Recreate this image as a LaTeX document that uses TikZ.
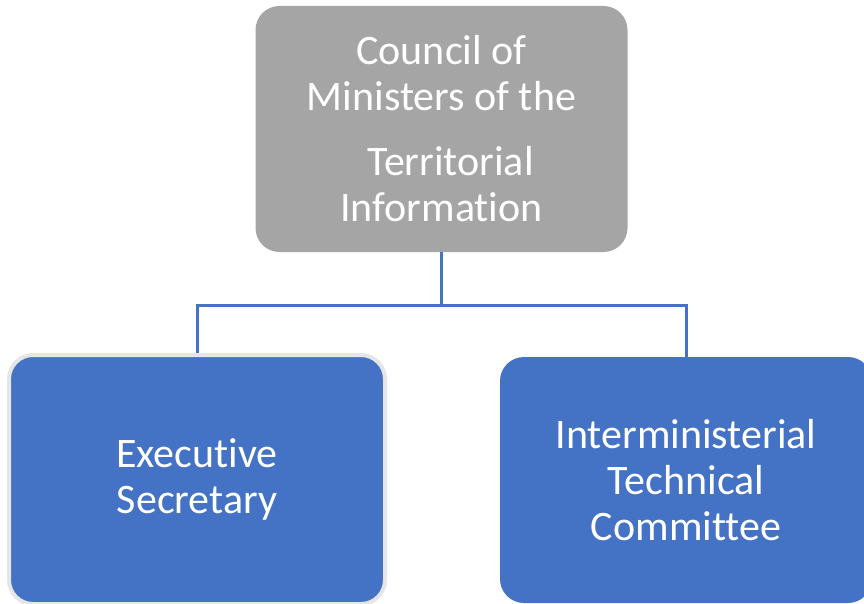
\documentclass[tikz,border=0pt]{standalone}
\usepackage{fontspec}
\setmainfont{Carlito}[Ligatures=NoCommon]
\definecolor{boxgray}{HTML}{A5A5A5}
\definecolor{boxblue}{HTML}{4472C4}
\definecolor{rimgray}{HTML}{E6E6E6}

\begin{document}
\begin{tikzpicture}[x=1pt,y=-1pt,
    orgbox/.style={rounded corners=24pt, text=white, align=center,
      font=\fontsize{42}{46}\selectfont, inner sep=0pt,
      minimum height=246pt},
    link/.style={draw=boxblue, line width=3pt}]
    \useasboundingbox (0,0) rectangle (864,604);
    \node[orgbox, fill=boxgray, minimum width=372pt] (council) at (441.5,129)
      {Council of\\ Ministers of the\\[19pt] \hspace*{18pt}Territorial\\ Information};
    \node[orgbox, fill=boxblue, draw=rimgray, line width=4pt,
      minimum width=376pt, minimum height=249pt] (exec) at (197,479.5)
      {Executive\\ Secretary};
    \node[orgbox, fill=boxblue, minimum width=372pt] (tech) at (686,480)
      {Interministerial\\ Technical\\ Committee};
    \coordinate (split) at (441.5,305);
    \draw[link] (council) -- (split) -| (exec);
    \draw[link] (split) -| (tech);
  \end{tikzpicture}
\end{document}
